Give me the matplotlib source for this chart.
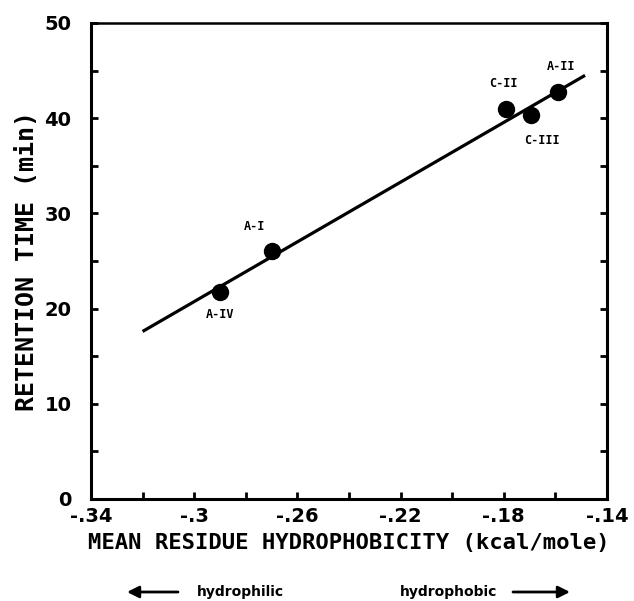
import matplotlib
matplotlib.use("Agg")
import matplotlib.pyplot as plt
from matplotlib.ticker import MultipleLocator, FixedLocator, FixedFormatter

# Data
labels = ["A-IV", "A-I", "C-II", "C-III", "A-II"]
hydrophobicity = [-0.290, -0.270, -0.179, -0.1695, -0.159]
retention = [21.7, 26.0, 41.0, 40.3, 42.7]
fit_x = [-0.320, -0.1485]
fit_y = [17.6, 44.5]
xtick_vals = [-0.34, -0.30, -0.26, -0.22, -0.18, -0.14]
xtick_labels = ["-.34", "-.3", "-.26", "-.22", "-.18", "-.14"]
ytick_vals = [0, 10, 20, 30, 40, 50]

label_offsets = {"A-IV": (0, -16), "A-I": (-12, 18), "C-II": (-2, 18),
                 "C-III": (8, -18), "A-II": (2, 19)}

fig = plt.figure(figsize=(6.34, 6.01), dpi=100)
ax = fig.add_axes([91/634, 1-499/601, (607-91)/634, (499-23)/601])

ax.plot(fit_x, fit_y, color="black", lw=2.3, solid_capstyle="butt")
ax.plot(hydrophobicity, retention, "o", color="black", ms=11.5)

for lab, x, y in zip(labels, hydrophobicity, retention):
    dx, dy = label_offsets[lab]
    ax.annotate(lab, (x, y), xytext=(dx, dy), textcoords="offset points",
                ha="center", va="center", fontsize=8.5, fontweight="bold",
                family="DejaVu Sans Mono")

ax.set_xlim(-0.34, -0.14)
ax.set_ylim(0, 50)
ax.xaxis.set_major_locator(FixedLocator(xtick_vals))
ax.xaxis.set_major_formatter(FixedFormatter(xtick_labels))
ax.xaxis.set_minor_locator(MultipleLocator(0.02))
ax.yaxis.set_major_locator(FixedLocator(ytick_vals))
ax.yaxis.set_minor_locator(MultipleLocator(5))

for s in ax.spines.values():
    s.set_linewidth(2.2)
ax.spines["top"].set_linewidth(1.8)

ax.tick_params(axis="both", which="both", direction="in", length=5, width=2,
               right=True, top=False)
ax.tick_params(axis="x", which="major", labelsize=14, pad=6)
ax.tick_params(axis="y", which="major", labelsize=14, pad=14)
for t in ax.get_xticklabels() + ax.get_yticklabels():
    t.set_fontweight("bold")

ax.set_xlabel("MEAN RESIDUE HYDROPHOBICITY (kcal/mole)", fontsize=16,
              fontweight="bold", family="DejaVu Sans Mono", labelpad=5)
ax.set_ylabel("RETENTION TIME (min)", fontsize=18, fontweight="bold",
              family="DejaVu Sans Mono", labelpad=4)

# bottom annotations with arrows
fig.text(197/634, 1-592/601, "hydrophilic", fontsize=10, fontweight="heavy",
         va="center", ha="left")
fig.text(497/634, 1-592/601, "hydrophobic", fontsize=10, fontweight="heavy",
         va="center", ha="right")
fig.patches.append(matplotlib.patches.FancyArrowPatch(
    (178/634, 1-592/601), (127/634, 1-592/601), transform=fig.transFigure,
    arrowstyle="-|>,head_length=7,head_width=3.5", color="black", lw=2,
    shrinkA=0, shrinkB=0))
fig.patches.append(matplotlib.patches.FancyArrowPatch(
    (513/634, 1-592/601), (570/634, 1-592/601), transform=fig.transFigure,
    arrowstyle="-|>,head_length=7,head_width=3.5", color="black", lw=2,
    shrinkA=0, shrinkB=0))

fig.savefig("out.png", dpi=100)
